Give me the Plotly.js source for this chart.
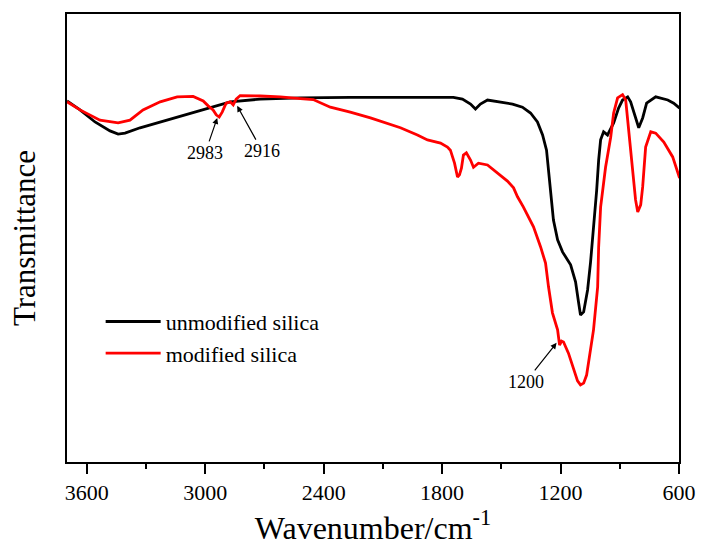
<!DOCTYPE html>
<html>
<head>
<meta charset="utf-8">
<script src="https://cdn.plot.ly/plotly-3.0.1.min.js"></script>
<style>html,body{margin:0;padding:0;background:#fff;}#chart{width:703px;height:547px;}</style>
</head>
<body>
<div id="chart"></div>
<script>
// Unmodified silica spectrum (wavenumber, transmittance in arbitrary %)
const unmodWavenumber = [3700,3634,3558,3482,3441,3406,3330,3228,3102,2975,2873,2721,2518,2265,2011,1743,1697,1656,1631,1606,1570,1504,1443,1393,1352,1317,1291,1271,1261,1251,1236,1215,1190,1149,1124,1109,1099,1083,1063,1048,1033,1017,1007,997,982,962,931,906,886,860,845,825,804,784,764,718,657,627,597];
const unmodTransmittance = [80.6,78.6,75.9,73.9,73.2,73.4,74.6,75.9,77.5,79.2,80.4,81.0,81.3,81.4,81.4,81.4,81.0,79.9,78.8,79.9,80.8,80.4,79.9,79.2,77.9,75.9,73.0,69.6,65.2,61.8,54.0,49.6,46.9,44.0,40.2,35.7,32.8,33.5,38.4,44.6,51.8,60.7,67.4,71.9,73.7,73.0,75.7,79.0,80.8,81.5,80.4,77.5,74.6,76.8,80.1,81.5,80.8,80.1,79.0];

// Modified silica spectrum
const modWavenumber = [3700,3634,3533,3441,3381,3315,3228,3142,3061,3010,2985,2960,2944,2929,2914,2894,2873,2858,2843,2823,2721,2620,2518,2453,2366,2265,2163,2087,2011,1925,1874,1808,1773,1758,1737,1722,1712,1702,1692,1677,1656,1641,1616,1570,1519,1469,1438,1418,1388,1362,1337,1301,1276,1261,1241,1215,1205,1195,1185,1160,1134,1114,1099,1083,1068,1058,1033,1012,1007,997,982,972,946,931,911,886,870,855,835,820,809,794,784,769,743,718,677,632,597];
const modTransmittance = [80.4,78.6,76.3,75.7,76.3,78.6,80.4,81.5,81.6,80.6,79.5,78.6,77.5,77.0,78.1,80.1,80.4,79.7,81.0,81.8,81.7,81.5,81.1,80.9,79.2,78.1,76.8,75.7,74.6,73.0,71.9,71.2,70.3,69.6,66.7,63.6,64.1,65.6,68.5,69.0,67.4,65.8,66.7,66.3,64.5,62.7,61.2,59.2,56.9,54.7,52.5,48.0,44.4,39.1,33.3,29.5,26.1,27.0,26.8,24.3,20.5,18.1,17.2,17.6,19.4,22.1,29.5,39.1,48.0,56.9,62.9,65.8,72.5,77.9,81.3,82.0,80.8,74.1,64.5,58.5,55.8,57.4,61.4,70.3,73.7,73.4,71.4,68.1,63.4];

const seriesNames = ["unmodified silica", "modified silica"];
const xTickVals = [3600, 3000, 2400, 1800, 1200, 600];
const xTickText = ["3600", "3000", "2400", "1800", "1200", "600"];

// Peak annotations: label, peak wavenumber, peak transmittance, label wavenumber, label transmittance
const peakLabels = ["2983", "2916", "1200"];
const peakX = [2939, 2838, 1220];
const peakY = [76.8, 79.5, 26.6];
const labelX = [3000, 2711, 1377];
const labelY = [69.0, 69.4, 17.9];

const serif = "Times New Roman, Liberation Serif, serif";

const traces = [
  {x: unmodWavenumber, y: unmodTransmittance, name: seriesNames[0], type: "scatter", mode: "lines",
   line: {color: "#000000", width: 2.8}, legendgroup: "a"},
  {x: modWavenumber, y: modTransmittance, name: seriesNames[1], type: "scatter", mode: "lines",
   line: {color: "#ff0000", width: 2.8}, legendgroup: "b"}
];

const annotations = peakLabels.map((t, i) => ({
  x: peakX[i], y: peakY[i], xref: "x", yref: "y",
  ax: labelX[i], ay: labelY[i], axref: "x", ayref: "y",
  text: t, showarrow: true, arrowhead: 2, arrowsize: 1, arrowwidth: 1.2, arrowcolor: "#000",
  font: {family: serif, size: 18, color: "#000"}
}));

const layout = {
  width: 703, height: 547,
  margin: {l: 67, r: 24, t: 14, b: 85},
  paper_bgcolor: "#fff", plot_bgcolor: "#fff",
  showlegend: true,
  legend: {x: 0.055, y: 0.36, xanchor: "left", yanchor: "top", bgcolor: "rgba(0,0,0,0)",
           font: {family: serif, size: 22, color: "#000"}, tracegroupgap: 0, traceorder: "grouped", itemwidth: 55},
  xaxis: {
    range: [3700, 600], tickvals: xTickVals, ticktext: xTickText,
    ticks: "outside", ticklen: 10, tickwidth: 2, tickcolor: "#000",
    minor: {ticks: "outside", ticklen: 5, tickwidth: 2, tickcolor: "#000", dtick: 300, tick0: 600},
    showline: true, linewidth: 2, linecolor: "#000", mirror: true,
    showgrid: false, zeroline: false,
    tickfont: {family: serif, size: 22, color: "#000"},
    title: {text: "Wavenumber/cm<sup>-1</sup>", font: {family: serif, size: 32, color: "#000"}, standoff: 2}
  },
  yaxis: {
    range: [0, 100], showticklabels: false, ticks: "",
    showline: true, linewidth: 2, linecolor: "#000", mirror: true,
    showgrid: false, zeroline: false,
    title: {text: "Transmittance", font: {family: serif, size: 31, color: "#000"}, standoff: 20}
  },
  annotations: annotations
};

Plotly.newPlot("chart", traces, layout, {displayModeBar: false, staticPlot: true});
</script>
</body>
</html>
